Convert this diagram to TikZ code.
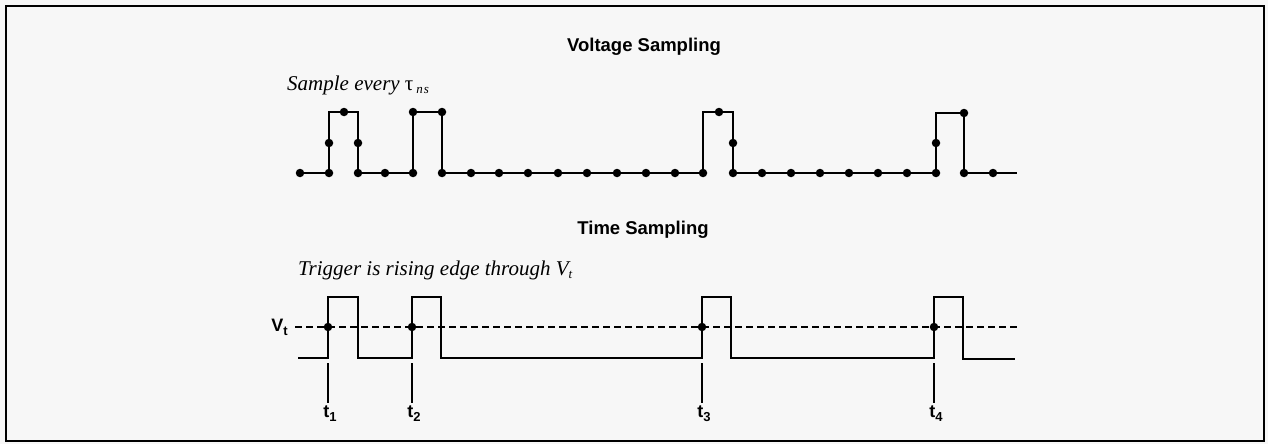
\documentclass[tikz,border=0pt]{standalone}
\usepackage{fontspec}
\setmainfont{Liberation Serif}
\newfontfamily\hel{Liberation Sans}
\definecolor{paper}{HTML}{F7F7F7}
\tikzset{
  x=1pt, y=-1pt,
  wave/.style={line width=1.9pt, line join=miter},
  sdot/.style={circle, fill=black, inner sep=0pt, minimum size=8.5pt},
  thresh/.style={line width=1.5pt, dash pattern=on 7pt off 4pt},
  tick/.style={line width=1.3pt},
  title/.style={font=\hel\bfseries\fontsize{18.5}{18.5}\selectfont, inner sep=0pt},
  note/.style={font=\itshape\fontsize{21}{21}\selectfont, inner sep=0pt, anchor=west},
  tlab/.style={font=\hel\bfseries\fontsize{18}{18}\selectfont, inner sep=0pt},
}
\begin{document}
\begin{tikzpicture}
\fill[paper] (0,0) rectangle (1268,444);
\useasboundingbox (0,0) rectangle (1268,444);
\draw[line width=2pt, fill=paper] (6,6) rectangle (1264,441);

% ---------- Voltage sampling ----------
\node[title] (vtitle) at (644,47) {Voltage Sampling};
\node[note] (vnote) at (287,85) {Sample every \textup{τ}\hspace{3pt}\raisebox{-3pt}{\fontsize{13}{13}\selectfont\itshape n\hspace{1pt}s}};

\draw[wave] (300,173) -- (329,173) -- (329,112) -- (358,112) -- (358,173)
  -- (413,173) -- (413,112) -- (442,112) -- (442,173)
  -- (703,173) -- (703,112) -- (733,112) -- (733,173)
  -- (936,173) -- (936,113) -- (964,113) -- (964,173) -- (1017,173);

\foreach \x [count=\i] in {300,329,358,385,413,442,471,499,528,558,587,617,646,675,703,733,762,791,820,849,878,907,936,964,993}
  \node[sdot] (vb\i) at (\x,173) {};
\foreach \x [count=\i] in {329,358,733,936}
  \node[sdot] (vm\i) at (\x,143) {};
\foreach \x/\y [count=\i] in {344/112,413/112,442/112,719/112,964/113}
  \node[sdot] (vt\i) at (\x,\y) {};

% ---------- Time sampling ----------
\node[title] (ttitle) at (643,230) {Time Sampling};
\node[note] (tnote) at (298,270) {Trigger is rising edge through V\raisebox{-3pt}{\fontsize{13}{13}\selectfont\itshape t}};

\node[tlab, anchor=east] (vt) at (288,327) {V\raisebox{-4pt}{\fontsize{13}{13}\selectfont t}};
\coordinate (dstart) at (295,327);
\coordinate (dend) at (1017,327);
\draw[thresh] (dstart) -- (dend);

\draw[wave] (298,358) -- (328,358) -- (328,297) -- (358,297) -- (358,358)
  -- (412,358) -- (412,297) -- (441,297) -- (441,358)
  -- (702,358) -- (702,297) -- (731,297) -- (731,358)
  -- (934,358) -- (934,297) -- (963,297) -- (963,359) -- (1015,359);

\foreach \x [count=\i] in {328,412,702,934} {
  \node[sdot] (c\i) at (\x,327) {};
  \coordinate (k\i) at (\x,363);
  \node[tlab, anchor=north] (t\i) at (\x+2,406) {t\raisebox{-4pt}{\fontsize{13}{13}\selectfont \i}};
  \draw[tick] (k\i) -- (\x,403);
}
\end{tikzpicture}
\end{document}
